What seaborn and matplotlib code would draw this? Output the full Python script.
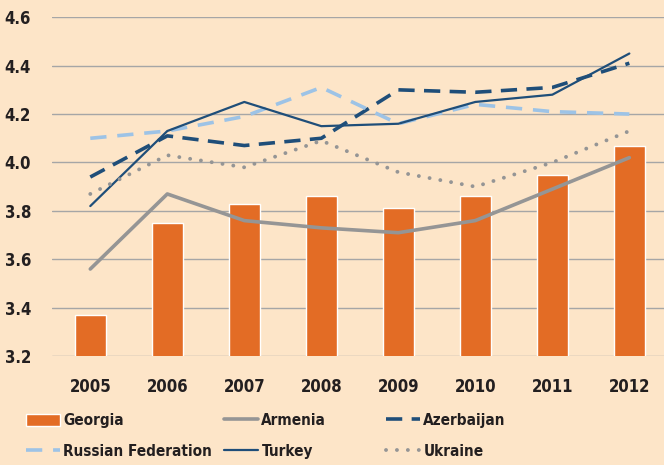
import seaborn as sns
import pandas as pd
from matplotlib import pyplot as plt

years = [2005, 2006, 2007, 2008, 2009, 2010, 2011, 2012]
georgia = [3.37, 3.75, 3.83, 3.86, 3.81, 3.86, 3.95, 4.07]
armenia = [3.56, 3.87, 3.76, 3.73, 3.71, 3.76, 3.89, 4.02]
azerbaijan = [3.94, 4.11, 4.07, 4.10, 4.30, 4.29, 4.31, 4.41]
russia = [4.10, 4.13, 4.19, 4.31, 4.16, 4.24, 4.21, 4.20]
turkey = [3.82, 4.13, 4.25, 4.15, 4.16, 4.25, 4.28, 4.45]
ukraine = [3.87, 4.03, 3.98, 4.09, 3.96, 3.90, 4.00, 4.13]

bg = '#fde5c8'
ink = '#231f20'

sns.set_theme(style="white")
plt.rcParams['font.family'] = ['DejaVu Sans']
plt.rcParams['font.stretch'] = 'condensed'
plt.rcParams['font.weight'] = 'bold'

fig = plt.figure(figsize=(6.64, 4.65), dpi=100, facecolor=bg)
ax = fig.add_axes([0.078, 0.234, 0.922, 0.729])
ax.set_facecolor(bg)

df_bar = pd.DataFrame({'Year': years, 'Score': georgia})
sns.barplot(data=df_bar, x='Year', y='Score', native_scale=True, width=0.4,
            color='#e36c25', saturation=1, ax=ax, label='Georgia', zorder=2)

lines = [
    ('Armenia', armenia, dict(color='#959595', lw=2.6, ls='-')),
    ('Azerbaijan', azerbaijan, dict(color='#1f4e79', lw=2.6, ls=(0, (4.5, 2.6)))),
    ('Russian Federation', russia, dict(color='#9dc3e6', lw=2.6, ls=(0, (4.5, 3.0)))),
    ('Turkey', turkey, dict(color='#1f4e79', lw=1.6, ls='-')),
    ('Ukraine', ukraine, dict(color='#959595', lw=2.8, ls=(0, (0.01, 2.8)),
                              dash_capstyle='round')),
]
for name, vals, style in lines:
    d = pd.DataFrame({'Year': years, 'Score': vals})
    sns.lineplot(data=d, x='Year', y='Score', ax=ax, label=name, zorder=3, **style)

ax.set_ylim(3.2, 4.6)
ax.set_yticks([3.2, 3.4, 3.6, 3.8, 4.0, 4.2, 4.4, 4.6])
ax.set_xlim(2004.5, 2012.45)
ax.set_xticks(years)
ax.set_xticklabels([str(y) for y in years])
ax.yaxis.grid(True, color='#a6a6a6', lw=1)
ax.set_axisbelow(True)
for s in ax.spines.values():
    s.set_visible(False)
ax.tick_params(length=0, labelsize=12, colors=ink)
ax.tick_params(axis='x', pad=16)
ax.tick_params(axis='y', pad=15)
ax.set(xlabel=None, ylabel=None)

handles, labels = ax.get_legend_handles_labels()
hmap = dict(zip(labels, handles))
ax.legend_.remove()

# three legend columns placed by hand
columns = [(26, ['Georgia', 'Russian Federation']),
           (224, ['Armenia', 'Turkey']),
           (386, ['Azerbaijan', 'Ukraine'])]
for x0, keys in columns:
    fig.legend([hmap[k] for k in keys], keys, frameon=False,
               loc='upper left', bbox_to_anchor=(x0 / 664, 1 - 413 / 465),
               fontsize=11, labelcolor=ink, handlelength=2.2, handleheight=0.85,
               handletextpad=0.25, labelspacing=1.05, borderpad=0,
               borderaxespad=0)

fig.savefig('out.png', dpi=100, facecolor=bg)
